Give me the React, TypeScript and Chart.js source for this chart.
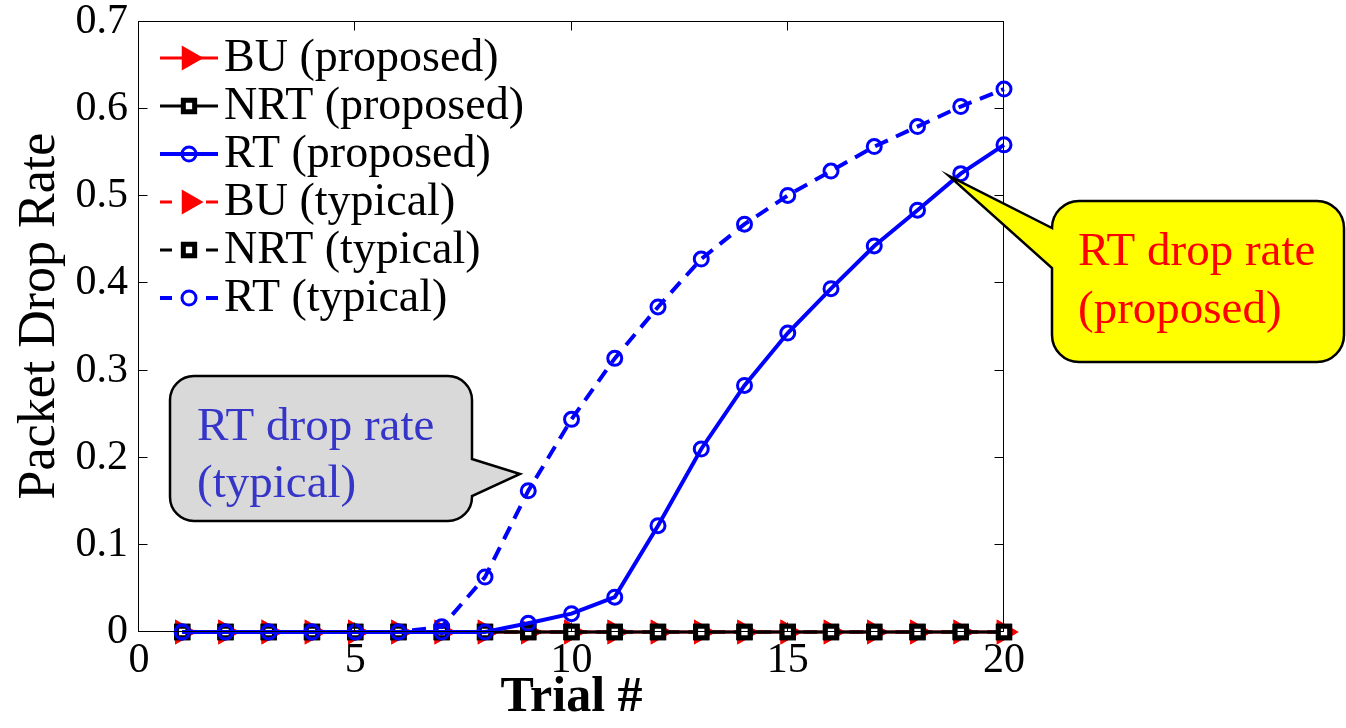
import React, { useEffect, useRef } from 'react';
import { Chart, registerables } from 'chart.js';

Chart.register(...registerables);

const SERIF = '"Liberation Serif", "Times New Roman", Times, serif';

// ---------- data ----------
const trials = [1, 2, 3, 4, 5, 6, 7, 8, 9, 10, 11, 12, 13, 14, 15, 16, 17, 18, 19, 20];
const buProposed = [0, 0, 0, 0, 0, 0, 0, 0, 0, 0, 0, 0, 0, 0, 0, 0, 0, 0, 0, 0];
const nrtProposed = [0, 0, 0, 0, 0, 0, 0, 0, 0, 0, 0, 0, 0, 0, 0, 0, 0, 0, 0, 0];
const rtProposed = [0, 0, 0, 0, 0, 0, 0, 0, 0.01, 0.021, 0.04, 0.122, 0.21, 0.283, 0.343, 0.394, 0.443, 0.484, 0.526, 0.559];
const buTypical = [0, 0, 0, 0, 0, 0, 0, 0, 0, 0, 0, 0, 0, 0, 0, 0, 0, 0, 0, 0];
const nrtTypical = [0, 0, 0, 0, 0, 0, 0, 0, 0, 0, 0, 0, 0, 0, 0, 0, 0, 0, 0, 0];
const rtTypical = [0, 0, 0, 0, 0, 0, 0.006, 0.063, 0.162, 0.244, 0.314, 0.373, 0.428, 0.468, 0.501, 0.529, 0.557, 0.58, 0.603, 0.623];

const xTicks = [0, 5, 10, 15, 20];
const yTicks = [0, 0.1, 0.2, 0.3, 0.4, 0.5, 0.6, 0.7];

const seriesLabels = ['BU (proposed)', 'NRT (proposed)', 'RT (proposed)', 'BU (typical)', 'NRT (typical)', 'RT (typical)'];
const xTitle = 'Trial #';
const yTitle = 'Packet Drop Rate';
const proposedCallout = ['RT drop rate', '(proposed)'];
const typicalCallout = ['RT drop rate', '(typical)'];

const toPoints = (vals: number[]) => vals.map((v, i) => ({ x: trials[i], y: v }));

function drawMarker(ctx: CanvasRenderingContext2D, ds: any, x: number, y: number) {
  ctx.save();
  ctx.setLineDash([]);
  ctx.lineWidth = ds.pointBorderWidth;
  ctx.strokeStyle = ds.pointBorderColor;
  ctx.fillStyle = ds.pointBackgroundColor;
  const r = ds.pointRadius;
  ctx.beginPath();
  if (ds.pointStyle === 'circle') {
    ctx.arc(x, y, r, 0, Math.PI * 2);
  } else if (ds.pointStyle === 'rect') {
    const s = Math.SQRT1_2 * r;
    ctx.rect(x - s, y - s, 2 * s, 2 * s);
  } else {
    const a = (Math.PI / 180) * 90;
    for (let k = 0; k < 3; k++) {
      const ang = a + (k * 2 * Math.PI) / 3;
      const px = x + Math.sin(ang) * r;
      const py = y - Math.cos(ang) * r;
      if (k === 0) ctx.moveTo(px, py);
      else ctx.lineTo(px, py);
    }
    ctx.closePath();
  }
  ctx.fill();
  ctx.stroke();
  ctx.restore();
}

function calloutPath(
  ctx: CanvasRenderingContext2D,
  L: number, T: number, R: number, B: number, r: number,
  side: 'left' | 'right', b1: number, b2: number, tipX: number, tipY: number
) {
  ctx.beginPath();
  if (side === 'left') {
    ctx.moveTo(L, b1);
    ctx.arcTo(L, T, R, T, r);
    ctx.arcTo(R, T, R, B, r);
    ctx.arcTo(R, B, L, B, r);
    ctx.arcTo(L, B, L, T, r);
    ctx.lineTo(L, b2);
    ctx.lineTo(tipX, tipY);
    ctx.closePath();
  } else {
    ctx.moveTo(R, b2);
    ctx.arcTo(R, B, L, B, r);
    ctx.arcTo(L, B, L, T, r);
    ctx.arcTo(L, T, R, T, r);
    ctx.arcTo(R, T, R, B, r);
    ctx.lineTo(R, b1);
    ctx.lineTo(tipX, tipY);
    ctx.closePath();
  }
}

const decorPlugin = {
  id: 'decor',
  afterDatasetsDraw(chart: any) {
    const { ctx, chartArea, scales } = chart;
    const { left, right, top, bottom } = chartArea;
    ctx.save();
    ctx.strokeStyle = '#000';
    ctx.lineWidth = 1;
    ctx.setLineDash([]);
    const l = Math.round(left) - 0.5, r = Math.round(right) - 0.5;
    const t = Math.round(top) - 0.5, b = Math.round(bottom) - 0.5;
    ctx.strokeRect(l, t, r - l, b - t);
    const tl = 9;
    ctx.beginPath();
    xTicks.forEach((v) => {
      const px = Math.round(scales.x.getPixelForValue(v)) - 0.5;
      ctx.moveTo(px, b); ctx.lineTo(px, b - tl);
      ctx.moveTo(px, t); ctx.lineTo(px, t + tl);
    });
    yTicks.forEach((v) => {
      const py = Math.round(scales.y.getPixelForValue(v)) - 0.5;
      ctx.moveTo(l, py); ctx.lineTo(l + tl, py);
      ctx.moveTo(r, py); ctx.lineTo(r - tl, py);
    });
    ctx.stroke();
    ctx.restore();
  },
  afterDraw(chart: any) {
    const { ctx } = chart;
    ctx.save();
    // y-axis title
    ctx.save();
    ctx.translate(40, 316);
    ctx.rotate(-Math.PI / 2);
    ctx.font = `52px ${SERIF}`;
    ctx.fillStyle = '#000';
    ctx.textAlign = 'center';
    ctx.textBaseline = 'middle';
    ctx.fillText(yTitle, 0, 0);
    ctx.restore();

    // legend
    chart.data.datasets.forEach((ds: any, i: number) => {
      const y = 58 + 48 * i;
      ctx.strokeStyle = ds.borderColor;
      ctx.lineWidth = ds.borderWidth;
      ctx.setLineDash([]);
      ctx.beginPath();
      if (ds.borderDash && ds.borderDash.length) {
        ctx.moveTo(160, y); ctx.lineTo(172, y);
        ctx.moveTo(206, y); ctx.lineTo(218, y);
      } else {
        ctx.moveTo(160, y); ctx.lineTo(218, y);
      }
      ctx.stroke();
      drawMarker(ctx, ds, 189, y);
      ctx.fillStyle = '#000';
      ctx.font = `46px ${SERIF}`;
      ctx.textBaseline = 'middle';
      ctx.textAlign = 'left';
      ctx.fillText(ds.label, 224, y + 1);
    });

    // callouts
    ctx.setLineDash([]);
    ctx.lineWidth = 2.5;
    ctx.strokeStyle = '#000';
    ctx.lineJoin = 'miter';

    calloutPath(ctx, 1052, 201, 1344, 362, 27, 'left', 228, 268, 949, 176);
    ctx.fillStyle = '#ffff00';
    ctx.fill();
    ctx.stroke();

    calloutPath(ctx, 170, 376, 472, 521, 24, 'right', 459, 496, 520, 474);
    ctx.fillStyle = '#d9d9d9';
    ctx.fill();
    ctx.stroke();

    ctx.font = `47px ${SERIF}`;
    ctx.textBaseline = 'alphabetic';
    ctx.textAlign = 'left';
    ctx.fillStyle = '#ff0000';
    ctx.fillText(proposedCallout[0], 1078, 265);
    ctx.fillText(proposedCallout[1], 1078, 323);
    ctx.fillStyle = '#3535c8';
    ctx.fillText(typicalCallout[0], 197, 440);
    ctx.fillText(typicalCallout[1], 197, 497);
    ctx.restore();
  },
};

export default function App() {
  const canvasRef = useRef<HTMLCanvasElement | null>(null);

  useEffect(() => {
    if (!canvasRef.current) return;
    const red = '#ff0000', black = '#000000', blue = '#0000ff';
    const dash = [14, 9];
    const mk = (label: string, vals: number[], color: string, style: string, width: number, dashed: boolean, order: number) => {
      const base: any = {
        label,
        data: toPoints(vals),
        borderColor: color,
        borderWidth: width,
        borderDash: dashed ? dash : [],
        pointStyle: style,
        pointBorderColor: color,
        order,
        clip: false,
      };
      if (style === 'circle') {
        base.pointRadius = 7;
        base.pointBorderWidth = 3;
        base.pointBackgroundColor = 'rgba(0,0,0,0)';
      } else if (style === 'rect') {
        base.pointRadius = 8;
        base.pointBorderWidth = 5;
        base.pointBackgroundColor = '#ffffff';
      } else {
        base.pointRadius = 13;
        base.pointRotation = 90;
        base.pointBorderWidth = 1.5;
        base.pointBackgroundColor = red;
      }
      return base;
    };

    const chart = new Chart(canvasRef.current, {
      type: 'line',
      data: {
        datasets: [
          mk(seriesLabels[0], buProposed, red, 'triangle', 3, false, 4),
          mk(seriesLabels[1], nrtProposed, black, 'rect', 3, false, 2),
          mk(seriesLabels[2], rtProposed, blue, 'circle', 4, false, 1),
          mk(seriesLabels[3], buTypical, red, 'triangle', 3, true, 5),
          mk(seriesLabels[4], nrtTypical, black, 'rect', 3, true, 3),
          mk(seriesLabels[5], rtTypical, blue, 'circle', 4, true, 0),
        ],
      },
      options: {
        responsive: false,
        animation: false,
        devicePixelRatio: 1,
        layout: { padding: { left: 0, top: 22, right: 342, bottom: 0 } },
        plugins: { legend: { display: false }, tooltip: { enabled: false } },
        elements: { line: { tension: 0 } },
        scales: {
          x: {
            type: 'linear',
            min: 0,
            max: 20,
            afterBuildTicks: (s: any) => { s.ticks = xTicks.map((v) => ({ value: v })); },
            afterFit: (s: any) => { s.height = 96; s.paddingLeft = 0; s.paddingRight = 0; },
            grid: { display: false, drawTicks: false },
            border: { display: false },
            ticks: { color: '#000', padding: 4, font: { family: SERIF, size: 42 }, maxRotation: 0 },
            title: { display: true, text: xTitle, color: '#000', padding: { top: 0, bottom: 0 }, font: { family: SERIF, size: 50, weight: 'bold' } },
          },
          y: {
            type: 'linear',
            min: 0,
            max: 0.7,
            afterBuildTicks: (s: any) => { s.ticks = yTicks.map((v) => ({ value: v })); },
            afterFit: (s: any) => { s.width = 139; s.paddingTop = 0; s.paddingBottom = 0; },
            grid: { display: false, drawTicks: false },
            border: { display: false },
            ticks: { color: '#000', padding: 11, font: { family: SERIF, size: 42 } },
            title: { display: false, text: yTitle },
          },
        },
      },
      plugins: [decorPlugin],
    } as any);

    return () => chart.destroy();
  }, []);

  return (
    <div style={{ position: 'absolute', left: 0, top: 0, width: 1346, height: 728, background: '#fff' }}>
      <canvas ref={canvasRef} width={1346} height={728} style={{ width: 1346, height: 728, display: 'block' }} />
    </div>
  );
}
